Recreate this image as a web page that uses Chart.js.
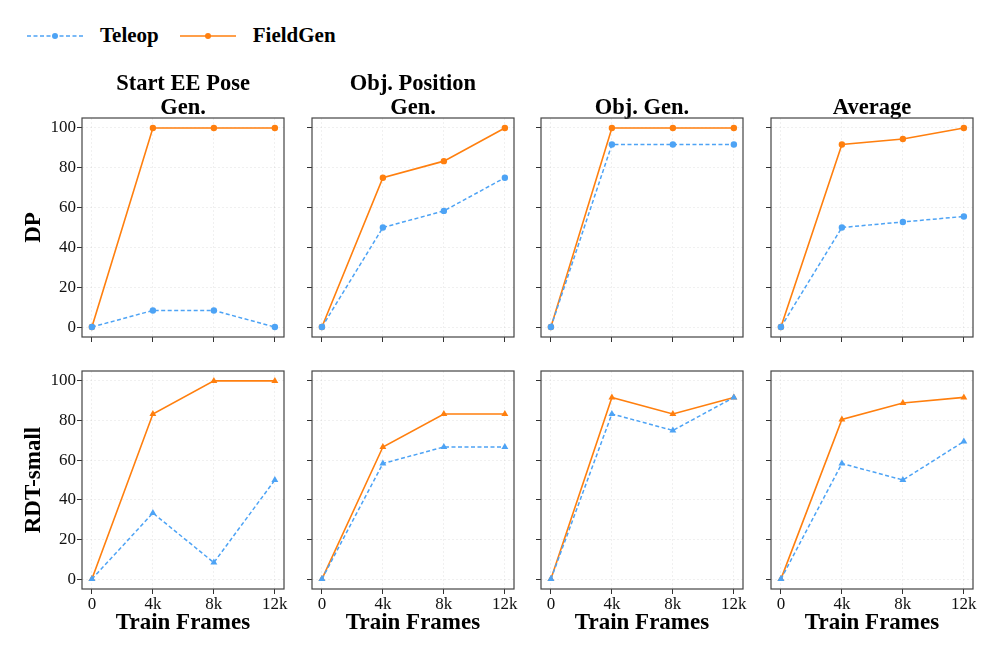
<!DOCTYPE html>
<html>
<head>
<meta charset="utf-8">
<script src="https://cdn.jsdelivr.net/npm/chart.js@4.4.1/dist/chart.umd.min.js"></script>
<style>
  html, body { margin: 0; padding: 0; background: #fff; }
  body { width: 997px; height: 654px; position: relative; overflow: hidden; font-family: "Liberation Serif", "DejaVu Serif", serif; }
  canvas.panel { position: absolute; }
  #legend { position: absolute; left: 27px; top: 23px; display: flex; align-items: center; font-weight: bold; font-size: 21px; color: #000; }
  #legend svg { display: block; }
  #legend span { margin: 0 21px 0 17px; }
</style>
</head>
<body>
<div id="legend">
  <svg width="56" height="12"><line x1="0" y1="6" x2="56" y2="6" stroke="#4da3f5" stroke-width="1.5" stroke-dasharray="4,2.5"/><circle cx="28" cy="6" r="3" fill="#4da3f5"/></svg>
  <span>Teleop</span>
  <svg width="56" height="12"><line x1="0" y1="6" x2="56" y2="6" stroke="#ff7f0e" stroke-width="1.5"/><circle cx="28" cy="6" r="3" fill="#ff7f0e"/></svg>
  <span>FieldGen</span>
</div>
<script>
// x positions in thousands of frames
const xFrames = [0, 4, 8, 12];
const xTickLabels = ['0', '4k', '8k', '12k'];
const yTicks = [0, 20, 40, 60, 80, 100];
const panelTitles = [['Start EE Pose', 'Gen.'], ['Obj. Position', 'Gen.'], ['Obj. Gen.'], ['Average']];
const rowLabels = ['DP', 'RDT-small'];

// success rate (%) per panel: Start EE Pose, Obj. Position, Obj. Gen., Average
const dpTeleop = [
    [0, 8.33, 8.33, 0],
    [0, 50, 58.33, 75],
    [0, 91.67, 91.67, 91.67],
    [0, 50, 52.78, 55.56]
];
const dpFieldGen = [
    [0, 100, 100, 100],
    [0, 75, 83.33, 100],
    [0, 100, 100, 100],
    [0, 91.67, 94.44, 100]
];
const rdtTeleop = [
    [0, 33.33, 8.33, 50],
    [0, 58.33, 66.67, 66.67],
    [0, 83.33, 75, 91.67],
    [0, 58.33, 50, 69.44]
];
const rdtFieldGen = [
    [0, 83.33, 100, 100],
    [0, 66.67, 83.33, 83.33],
    [0, 91.67, 83.33, 91.67],
    [0, 80.56, 88.89, 91.67]
];

const BLUE = '#4da3f5';
const ORANGE = '#ff7f0e';
const FONT = '"Liberation Serif", "DejaVu Serif", serif';
Chart.defaults.font.family = FONT;

const frameLefts = [82, 312, 541, 771];
const plotWidth = 204;

const framePlugin = {
    id: 'frame',
    afterDraw: (chart) => {
        const { ctx, chartArea: a } = chart;
        ctx.save();
        ctx.strokeStyle = '#444';
        ctx.lineWidth = 1.2;
        ctx.strokeRect(a.left, a.top, a.right - a.left, a.bottom - a.top);
        ctx.restore();
    }
};

// drop the label overhang padding so every panel gets the same plot box
function noOverhang(s) {
    s.paddingTop = 0;
    s.paddingBottom = 0;
    s.paddingLeft = 0;
    s.paddingRight = 0;
}

function makePanel(row, col) {
    const teleop = row === 0 ? dpTeleop[col] : rdtTeleop[col];
    const fieldgen = row === 0 ? dpFieldGen[col] : rdtFieldGen[col];
    const marker = row === 0 ? 'circle' : 'triangle';
    const radius = row === 0 ? 3.2 : 4;

    const yAxisW = col === 0 ? 82 : 8;
    const xAxisH = row === 1 ? 48 : 8;
    const titleLines = panelTitles[col].length;
    const titleH = 58;
    const canvas = document.createElement('canvas');
    canvas.className = 'panel';
    const w = yAxisW + plotWidth + 2;
    const h = row === 0 ? titleH + 219 + xAxisH : 2 + 220 + xAxisH;
    canvas.width = w;
    canvas.height = h;
    canvas.style.width = w + 'px';
    canvas.style.height = h + 'px';
    canvas.style.left = (frameLefts[col] - yAxisW) + 'px';
    canvas.style.top = (row === 0 ? 60 : 367) + 'px';
    document.body.appendChild(canvas);

    const toPts = (arr) => arr.map((v, i) => ({ x: xFrames[i], y: v }));

    new Chart(canvas.getContext('2d'), {
        type: 'line',
        data: {
            datasets: [
                {
                    label: 'Teleop',
                    data: toPts(teleop),
                    borderColor: BLUE,
                    backgroundColor: BLUE,
                    borderWidth: 1.5,
                    borderDash: [4, 2.5],
                    pointStyle: marker,
                    pointRadius: radius,
                    pointBorderWidth: 0,
                    tension: 0
                },
                {
                    label: 'FieldGen',
                    data: toPts(fieldgen),
                    borderColor: ORANGE,
                    backgroundColor: ORANGE,
                    borderWidth: 1.6,
                    pointStyle: marker,
                    pointRadius: radius,
                    pointBorderWidth: 0,
                    tension: 0
                }
            ]
        },
        options: {
            responsive: false,
            animation: false,
            devicePixelRatio: 1,
            layout: { padding: { top: row === 0 ? 0 : 2, right: 2, left: 0, bottom: 0 } },
            plugins: {
                legend: { display: false },
                tooltip: { enabled: false },
                title: {
                    display: row === 0,
                    fullSize: false,
                    text: panelTitles[col],
                    color: '#000',
                    font: { size: 22.5, weight: 'bold', lineHeight: '24px' },
                    padding: { top: titleLines === 2 ? 12 : 36, bottom: -2 }
                }
            },
            scales: {
                x: {
                    type: 'linear',
                    min: -0.65,
                    max: 12.6,
                    afterBuildTicks: (s) => { s.ticks = xFrames.map(v => ({ value: v })); },
                    afterFit: (s) => { s.height = xAxisH; noOverhang(s); },
                    ticks: {
                        display: row === 1,
                        autoSkip: false,
                        maxRotation: 0,
                        padding: 0,
                        color: '#111',
                        font: { size: 17 },
                        callback: (v) => xTickLabels[xFrames.indexOf(v)]
                    },
                    grid: { color: 'rgba(0,0,0,0.06)', tickColor: '#333', tickLength: 5, lineWidth: 1 },
                    border: { display: false, dash: [2, 2] },
                    title: {
                        display: row === 1,
                        text: 'Train Frames',
                        color: '#000',
                        font: { size: 23, weight: 'bold' },
                        padding: { top: 0, bottom: 0 }
                    }
                },
                y: {
                    min: -5,
                    max: 105,
                    afterBuildTicks: (s) => { s.ticks = yTicks.map(v => ({ value: v })); },
                    afterFit: (s) => { s.width = yAxisW; noOverhang(s); },
                    ticks: {
                        display: col === 0,
                        padding: 1,
                        color: '#111',
                        font: { size: 17 }
                    },
                    grid: { color: 'rgba(0,0,0,0.06)', tickColor: '#333', tickLength: 5, lineWidth: 1 },
                    border: { display: false, dash: [2, 2] },
                    title: {
                        display: col === 0,
                        text: rowLabels[row],
                        color: '#000',
                        font: { size: 23, weight: 'bold' },
                        padding: { top: 20, bottom: 0 }
                    }
                }
            }
        },
        plugins: [framePlugin]
    });
}

for (let r = 0; r < 2; r++) {
    for (let c = 0; c < 4; c++) makePanel(r, c);
}
</script>
</body>
</html>
